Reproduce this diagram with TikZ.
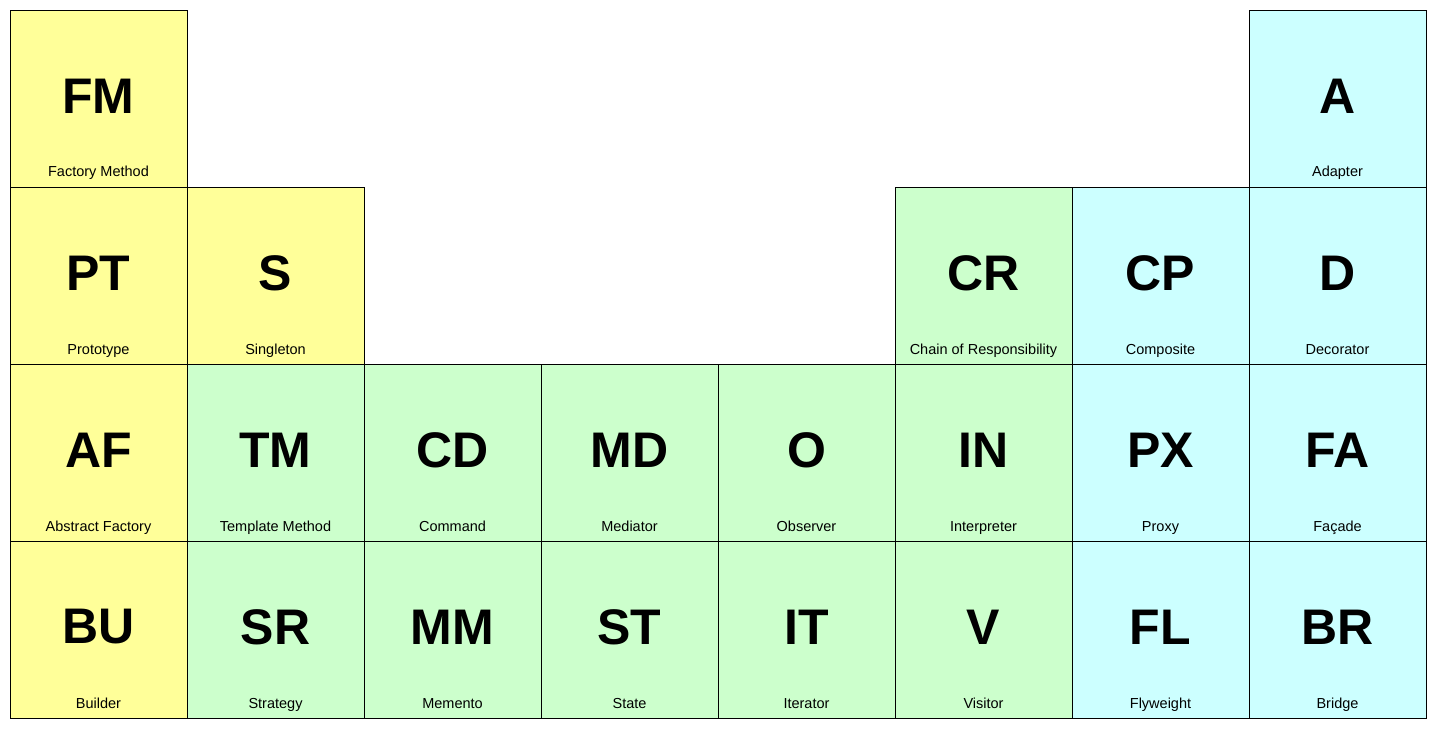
\documentclass[tikz,border=0pt]{standalone}
\usepackage{fontspec}
\setmainfont{Liberation Sans}
\definecolor{creat}{HTML}{FFFF99}
\definecolor{behav}{HTML}{CCFFCC}
\definecolor{struc}{HTML}{CCFFFF}
\begin{document}
\begin{tikzpicture}[x=1pt,y=-1pt,
  cellbox/.style={draw=black,line width=0.9pt,minimum width=177pt,minimum height=177pt,inner sep=0pt,outer sep=0pt},
  bigabbr/.style={font=\fontsize{50}{58}\selectfont\bfseries,inner sep=0pt},
  patname/.style={font=\fontsize{14.5}{17}\selectfont,inner sep=0pt,anchor=base}]
\useasboundingbox (0,0) rectangle (1437,730);
\foreach \c/\r/\id/\ab/\nm/\col in {
  0/0/fm/FM/Factory Method/creat,
  7/0/a/A/Adapter/struc,
  0/1/pt/PT/Prototype/creat,
  1/1/s/S/Singleton/creat,
  5/1/cr/CR/Chain of Responsibility/behav,
  6/1/cp/CP/Composite/struc,
  7/1/d/D/Decorator/struc,
  0/2/af/AF/Abstract Factory/creat,
  1/2/tm/TM/Template Method/behav,
  2/2/cd/CD/Command/behav,
  3/2/md/MD/Mediator/behav,
  4/2/o/O/Observer/behav,
  5/2/in/IN/Interpreter/behav,
  6/2/px/PX/Proxy/struc,
  7/2/fa/FA/Façade/struc,
  0/3/bu/BU/Builder/creat,
  1/3/sr/SR/Strategy/behav,
  2/3/mm/MM/Memento/behav,
  3/3/st/ST/State/behav,
  4/3/it/IT/Iterator/behav,
  5/3/v/V/Visitor/behav,
  6/3/fl/FL/Flyweight/struc,
  7/3/br/BR/Bridge/struc}{
  \node[cellbox,fill=\col] (\id) at ({98.5+177*\c},{98.5+177*\r}) {};
  \node[bigabbr] (\id-ab) at ([yshift=2.5pt]\id.center) {\ab};
  \node[patname] (\id-nm) at ([yshift=10pt]\id.south) {\nm};
}
\end{tikzpicture}
\end{document}
